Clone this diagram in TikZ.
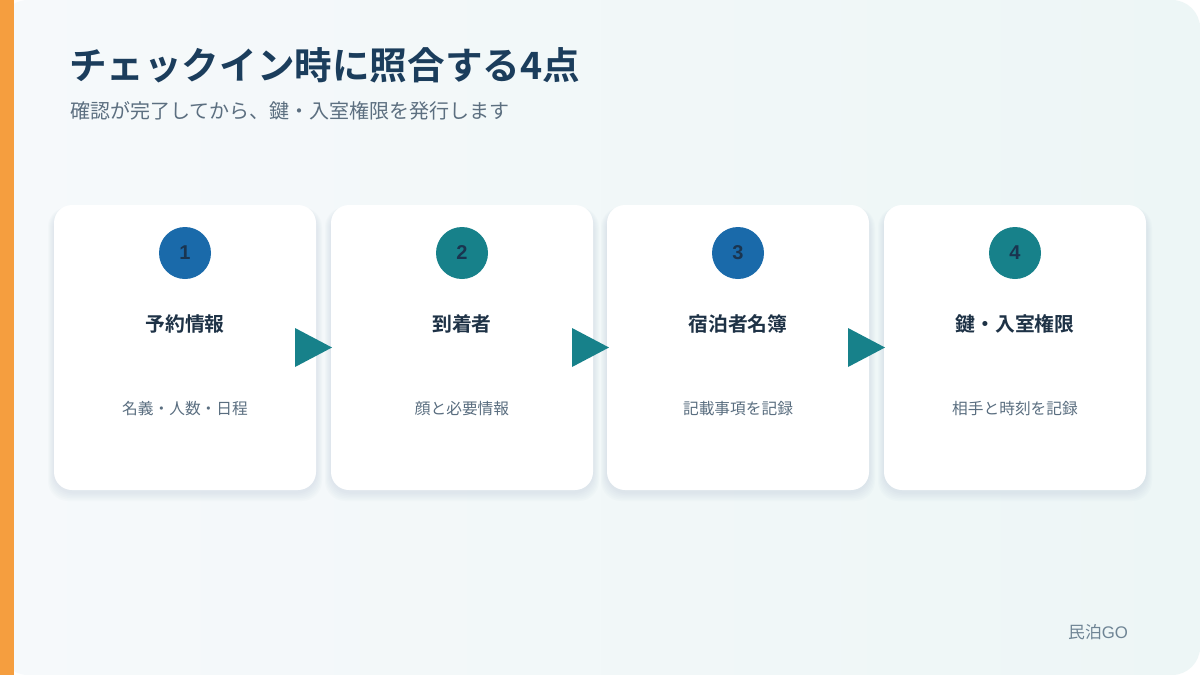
\documentclass[tikz,border=0pt]{standalone}
\usepackage{fontspec}
\setmainfont{Noto Sans CJK JP}[BoldFont={Noto Sans CJK JP Bold}]
\newfontfamily\numfont{Liberation Sans}
\definecolor{orangebar}{HTML}{F59E3F}
\definecolor{bgA}{HTML}{F6F9FB}
\definecolor{bgB}{HTML}{EDF6F6}
\definecolor{titlecol}{HTML}{1B3D5C}
\definecolor{subcol}{HTML}{5C6F80}
\definecolor{cardtitle}{HTML}{1E3246}
\definecolor{carddesc}{HTML}{5A6E80}
\definecolor{blueC}{HTML}{1A6AAA}
\definecolor{tealC}{HTML}{17818A}
\definecolor{numcol}{HTML}{1A3550}
\definecolor{footcol}{HTML}{6E8494}
\definecolor{shadowcol}{HTML}{9FB4C4}
\tikzset{
  card/.style={fill=white, rounded corners=18pt},
  badge/.style={circle, minimum size=52pt, inner sep=0pt, text=numcol, font=\numfont\bfseries\fontsize{20}{20}\selectfont},
  ctitle/.style={text=cardtitle, font=\bfseries\fontsize{19.8}{22}\selectfont, anchor=center},
  cdesc/.style={text=carddesc, font=\fontsize{15.7}{17}\selectfont, anchor=center},
  flowarrow/.style={fill=tealC}
}
\begin{document}
\begin{tikzpicture}[x=1pt,y=-1pt]
\useasboundingbox (0,0) rectangle (1200,675);
\fill[white] (0,0) rectangle (1200,675);
\shade[left color=bgA, right color=bgB, rounded corners=28pt] (0,0) rectangle (1200,675);
\fill[orangebar] (0,0) rectangle (14,675);
\node[anchor=base west, text=titlecol, font=\bfseries\fontsize{37.6}{42}\selectfont, inner sep=0pt] (title) at (69,79) {チェックイン時に照合する4点};
\node[anchor=base west, text=subcol, font=\fontsize{20}{23}\selectfont, inner sep=0pt] (sub) at (70,118) {確認が完了してから、鍵・入室権限を発行します};
\foreach \i/\x/\c/\t/\d in {1/54/blueC/予約情報/名義・人数・日程, 2/331/tealC/到着者/顔と必要情報, 3/607/blueC/宿泊者名簿/記載事項を記録, 4/884/tealC/鍵・入室権限/相手と時刻を記録}{
  \foreach \k in {1,...,6}{
    \fill[shadowcol, opacity=0.04, rounded corners=20pt] (\x-\k*1.0,205-\k*0.3+4) rectangle (\x+262+\k*1.0,490+\k*1.5+2);
  }
  \fill[card] (\x,205) rectangle (\x+262,490);
  \node[badge, fill=\c] (b\i) at (\x+131,253) {\i};
  \node[ctitle] (t\i) at (\x+131,324) {\t};
  \node[cdesc] (d\i) at (\x+131,409) {\d};
}
\foreach \x in {295,572,848}{
  \fill[flowarrow] (\x,328) -- (\x+37,347.5) -- (\x,367) -- cycle;
}
\node[anchor=base west, text=footcol, font=\fontsize{16.8}{19}\selectfont, inner sep=0pt] (foot) at (1068,638) {民泊\numfont GO};
\end{tikzpicture}
\end{document}
